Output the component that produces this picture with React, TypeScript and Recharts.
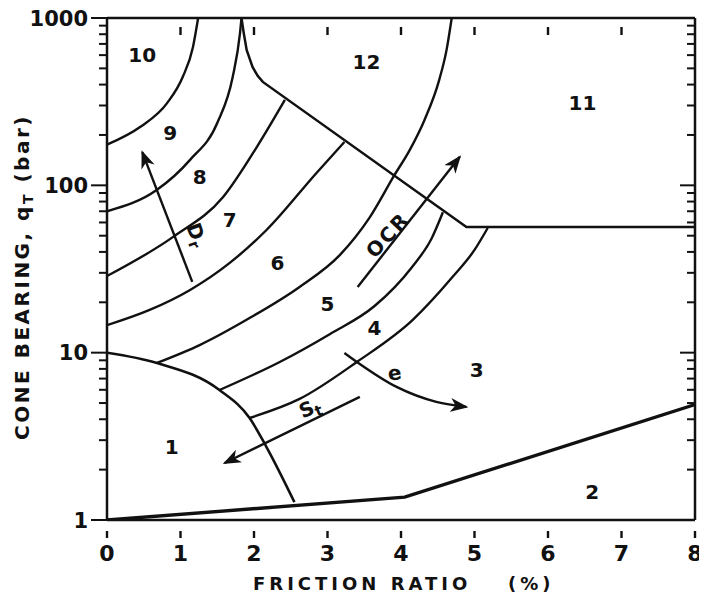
import { ComposedChart, Line, Scatter, XAxis, YAxis } from "recharts";

// axis ticks
const xTicks = [0, 1, 2, 3, 4, 5, 6, 7, 8];
const topTicks = [1, 2, 3, 4, 5, 6, 7];
const yTicks = [
  1, 2, 3, 4, 5, 6, 7, 8, 9, 10, 20, 30, 40, 50, 60, 70, 80, 90, 100, 200, 300, 400, 500, 600,
  700, 800, 900, 1000,
];
const yLabelled = [1, 10, 100, 1000];

// zone boundaries: x = friction ratio (%), y = cone bearing (bar)
const zone2Edge = [
  { x: 0, y: 1 },
  { x: 4.05, y: 1.37 },
  { x: 8, y: 4.9 },
];
const zone1Edge = [
  { x: 0, y: 10 },
  { x: 0.68, y: 8.68 },
  { x: 1.53, y: 5.98 },
  { x: 1.94, y: 4.07 },
  { x: 2.17, y: 2.73 },
  { x: 2.55, y: 1.28 },
];
const edge10to9 = [
  { x: 0, y: 175 },
  { x: 0.45, y: 223 },
  { x: 0.82, y: 311 },
  { x: 1.03, y: 444 },
  { x: 1.17, y: 672 },
  { x: 1.24, y: 1000 },
];
const edge9to8 = [
  { x: 0, y: 70 },
  { x: 0.68, y: 94 },
  { x: 1.13, y: 142 },
  { x: 1.5, y: 236 },
  { x: 1.71, y: 444 },
  { x: 1.81, y: 815 },
  { x: 1.83, y: 1000 },
];
const edge8to7 = [
  { x: 0, y: 28.7 },
  { x: 0.9, y: 49.2 },
  { x: 1.58, y: 85.2 },
  { x: 2.04, y: 170 },
  { x: 2.42, y: 324 },
];
const edge7to6 = [
  { x: 0, y: 14.6 },
  { x: 0.58, y: 18 },
  { x: 1.13, y: 23.7 },
  { x: 1.67, y: 34.4 },
  { x: 2.17, y: 54.1 },
  { x: 2.85, y: 118.6 },
  { x: 3.23, y: 181.7 },
];
const edge6to5 = [
  { x: 0.68, y: 8.68 },
  { x: 1.26, y: 11.1 },
  { x: 1.94, y: 16.1 },
  { x: 2.62, y: 24.7 },
  { x: 3.17, y: 38.4 },
  { x: 3.57, y: 63.9 },
  { x: 3.91, y: 115 },
  { x: 4.12, y: 163 },
  { x: 4.32, y: 246 },
  { x: 4.52, y: 427 },
  { x: 4.62, y: 645 },
  { x: 4.69, y: 1000 },
];
const edge5to4 = [
  { x: 1.53, y: 5.98 },
  { x: 2.35, y: 8.8 },
  { x: 3.03, y: 12.9 },
  { x: 3.64, y: 19 },
  { x: 4.14, y: 32.1 },
  { x: 4.42, y: 48.5 },
  { x: 4.57, y: 69 },
];
const edge4to3 = [
  { x: 1.94, y: 4.07 },
  { x: 2.62, y: 5.29 },
  { x: 3.4, y: 8.8 },
  { x: 4.16, y: 15.7 },
  { x: 4.7, y: 28.3 },
  { x: 5.0, y: 41.1 },
  { x: 5.18, y: 55.6 },
];
const zone12Edge = [
  { x: 1.83, y: 1000 },
  { x: 1.86, y: 815 },
  { x: 1.9, y: 645 },
  { x: 1.98, y: 510 },
  { x: 2.05, y: 451 },
  { x: 2.12, y: 415 },
  { x: 4.89, y: 56.4 },
  { x: 8, y: 56.4 },
];

// trend arrows (tail first, head last)
const arrowDr = [
  { x: 1.16, y: 26.5 },
  { x: 0.48, y: 158 },
];
const arrowOcr = [
  { x: 3.41, y: 24.7 },
  { x: 4.8, y: 148 },
];
const arrowE = [
  { x: 3.23, y: 9.96 },
  { x: 3.4, y: 8.8 },
  { x: 3.94, y: 6.24 },
  { x: 4.48, y: 5.08 },
  { x: 4.89, y: 4.74 },
];
const arrowSt = [
  { x: 3.44, y: 5.44 },
  { x: 1.6, y: 2.19 },
];

const zoneLabels = [
  { x: 0.48, y: 601, text: "10" },
  { x: 0.86, y: 206, text: "9" },
  { x: 1.26, y: 112, text: "8" },
  { x: 1.67, y: 62, text: "7" },
  { x: 2.32, y: 34.4, text: "6" },
  { x: 3.0, y: 19.5, text: "5" },
  { x: 3.64, y: 14, text: "4" },
  { x: 5.03, y: 7.9, text: "3" },
  { x: 6.6, y: 1.47, text: "2" },
  { x: 0.88, y: 2.73, text: "1" },
  { x: 3.53, y: 547, text: "12" },
  { x: 6.47, y: 311, text: "11" },
];
const arrowLabels = [
  { x: 3.82, y: 50.5, text: "OCR", sub: "" },
  { x: 1.22, y: 50.5, text: "D", sub: "r" },
  { x: 3.91, y: 7.56, text: "e", sub: "" },
  { x: 2.76, y: 4.67, text: "S", sub: "t" },
];

const labelTilt: Record<string, number> = { OCR: -47, D: 70, S: -22, e: -10 };

const ink = "#111";
const font = "'DejaVu Sans', sans-serif";

function LeftTick({ x, y, payload }: any) {
  const major = yLabelled.includes(payload.value);
  return (
    <g>
      <line x1={x - (major ? 16 : 8)} x2={x} y1={y} y2={y} stroke={ink} strokeWidth={2} />
      {major && (
        <text x={x - 19} y={y} dy={7.5} textAnchor="end" fontSize={21} fontWeight="bold" fontFamily={font} fill={ink}>
          {payload.value}
        </text>
      )}
    </g>
  );
}

function RightTick({ x, y, payload }: any) {
  const major = yLabelled.includes(payload.value);
  return <line x1={x - (major ? 15 : 8)} x2={x} y1={y} y2={y} stroke={ink} strokeWidth={2} />;
}

// short marks hanging just under the top border
function TopMark({ cx, cy }: any) {
  if (cx == null || cy == null) return null;
  return <rect x={cx - 1.2} y={cy + 9} width={2.4} height={8} fill={ink} />;
}

function BottomTick({ x, y, payload }: any) {
  return (
    <g>
      <rect x={x - 1.2} y={y + 11} width={2.4} height={7} fill={ink} />
      <text x={x} y={y + 41} textAnchor="middle" fontSize={22} fontWeight="bold" fontFamily={font} fill={ink}>
        {payload.value}
      </text>
    </g>
  );
}

function XTitle({ viewBox }: any) {
  const { x, y } = viewBox;
  return (
    <text x={x + 146} y={y + 70} fontSize={18} fontWeight="bold" fontFamily={font} fill={ink} letterSpacing={4}>
      FRICTION RATIO
      <tspan x={x + 401}>(%)</tspan>
    </text>
  );
}

function YTitle({ viewBox }: any) {
  const cx = viewBox.x + 14;
  const cy = viewBox.y + viewBox.height / 2 + 8;
  return (
    <text
      x={cx}
      y={cy}
      transform={`rotate(-90 ${cx} ${cy})`}
      textAnchor="middle"
      dominantBaseline="central"
      fontSize={20}
      fontWeight="bold"
      fontFamily={font}
      fill={ink}
      letterSpacing={2.5}
    >
      CONE BEARING, q
      <tspan fontSize={14} dy={6}>T</tspan>
      <tspan dy={-6}> (bar)</tspan>
    </text>
  );
}

function ZoneText({ cx, cy, payload }: any) {
  const tilt = labelTilt[payload.text] ?? 0;
  return (
    <text
      x={cx}
      y={cy}
      transform={tilt ? `rotate(${tilt} ${cx} ${cy})` : undefined}
      textAnchor="middle"
      dominantBaseline="central"
      fontSize={20}
      fontWeight="bold"
      fontFamily={font}
      fill={ink}
      letterSpacing={payload.text === "OCR" ? 2 : 0}
    >
      {payload.text}
      {payload.sub && (
        <tspan fontSize={15} dy={6}>
          {payload.sub}
        </tspan>
      )}
    </text>
  );
}

function boundary(data: { x: number; y: number }[], key: string, width = 2.4, type: any = "monotone") {
  return (
    <Line
      key={key}
      data={data}
      dataKey="y"
      type={type}
      stroke={ink}
      strokeWidth={width}
      dot={false}
      activeDot={false}
      isAnimationActive={false}
    />
  );
}

function arrow(data: { x: number; y: number }[], key: string, type: any = "linear") {
  return (
    <Line
      key={key}
      data={data}
      dataKey="y"
      type={type}
      stroke={ink}
      strokeWidth={2.4}
      markerEnd="url(#arrowHead)"
      dot={false}
      activeDot={false}
      isAnimationActive={false}
    />
  );
}

const topMarks = topTicks.map((v) => ({ x: v, y: 1000 }));

export default function App() {
  return (
    <div style={{ width: 695, height: 584, background: "#fff", overflow: "visible" }}>
      <ComposedChart width={695} height={590} margin={{ top: 0, right: 0, bottom: 0, left: 0 }}>
        <defs>
          <marker
            id="arrowHead"
            viewBox="0 0 18 14"
            refX="16"
            refY="7"
            markerWidth="18"
            markerHeight="14"
            markerUnits="userSpaceOnUse"
            orient="auto"
          >
            <path d="M0,0 L18,7 L0,14 L5,7 z" fill={ink} />
          </marker>
        </defs>
        <XAxis
          dataKey="x"
          type="number"
          domain={[0, 8]}
          ticks={xTicks}
          interval={0}
          height={78}
          tickSize={0}
          tickMargin={0}
          tickLine={false}
          tick={<BottomTick />}
          axisLine={{ stroke: ink, strokeWidth: 2.5 }}
          allowDataOverflow
          label={<XTitle />}
        />
        <XAxis
          xAxisId="top"
          orientation="top"
          type="number"
          domain={[0, 8]}
          height={10}
          tickLine={false}
          tick={false}
          axisLine={{ stroke: ink, strokeWidth: 2.5 }}
          allowDataOverflow
        />
        <YAxis
          dataKey="y"
          type="number"
          scale="log"
          domain={[1, 1000]}
          ticks={yTicks}
          interval={0}
          width={99}
          tickSize={0}
          tickMargin={0}
          tickLine={false}
          tick={<LeftTick />}
          axisLine={{ stroke: ink, strokeWidth: 2.5 }}
          allowDataOverflow
          label={<YTitle />}
        />
        <YAxis
          yAxisId="right"
          orientation="right"
          type="number"
          scale="log"
          domain={[1, 1000]}
          ticks={yTicks}
          interval={0}
          width={8}
          tickSize={0}
          tickMargin={0}
          tickLine={false}
          tick={<RightTick />}
          axisLine={{ stroke: ink, strokeWidth: 2.5 }}
          allowDataOverflow
        />

        {boundary(zone2Edge, "z2", 3.4, "linear")}
        {boundary(zone1Edge, "z1", 2.6)}
        {boundary(edge10to9, "e109")}
        {boundary(edge9to8, "e98")}
        {boundary(edge8to7, "e87")}
        {boundary(edge7to6, "e76")}
        {boundary(edge6to5, "e65")}
        {boundary(edge5to4, "e54")}
        {boundary(edge4to3, "e43")}
        {boundary(zone12Edge, "z12", 2.5, "linear")}

        {arrow(arrowDr, "aDr")}
        {arrow(arrowOcr, "aOcr")}
        {arrow(arrowE, "aE", "monotone")}
        {arrow(arrowSt, "aSt")}

        <Scatter data={topMarks} shape={<TopMark />} isAnimationActive={false} />
        <Scatter data={zoneLabels} shape={<ZoneText />} isAnimationActive={false} />
        <Scatter data={arrowLabels} shape={<ZoneText />} isAnimationActive={false} />
      </ComposedChart>
    </div>
  );
}
